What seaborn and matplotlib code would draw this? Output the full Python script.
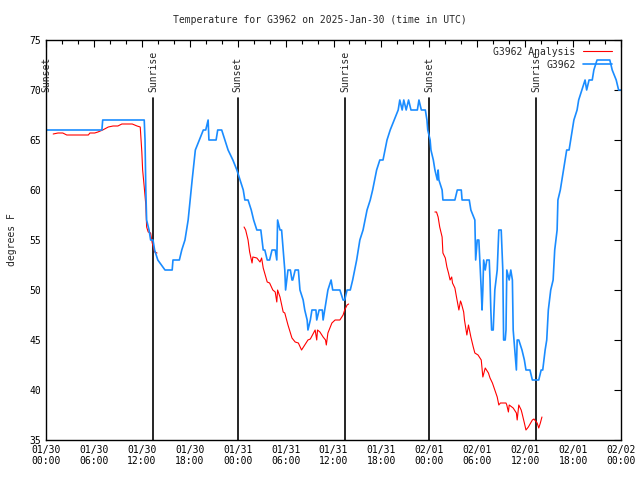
import numpy as np
import pandas as pd
import seaborn as sns
import matplotlib.pyplot as plt
import matplotlib.dates as mdates

# hours since 2025-01-30 00:00 UTC, temperature in degrees F
obs_hours = [0.0, 7.0, 7.1, 12.3, 12.4, 12.5, 12.6, 12.9, 13.1, 13.4, 13.6, 14.0, 14.9, 15.8, 15.9,
             16.7, 17.0, 17.4, 17.8, 18.3, 18.7, 19.2, 19.7, 20.0, 20.3, 20.4, 21.3, 21.5, 22.0, 22.4,
             22.8, 23.4, 23.9, 24.3, 24.7, 24.9, 25.3, 25.7, 26.0, 26.4, 26.9, 27.2, 27.4, 27.7, 28.0,
             28.3, 28.7, 28.9, 29.0, 29.3, 29.5, 29.7, 29.9, 30.0, 30.3, 30.6, 30.8, 30.9, 31.2, 31.6,
             31.8, 32.2, 32.4, 32.7, 32.8, 33.1, 33.3, 33.8, 33.9, 34.2, 34.6, 34.7, 35.1, 35.3, 35.7,
             35.9, 36.8, 37.2, 37.4, 37.7, 38.1, 38.4, 38.9, 39.3, 39.7, 40.2, 40.6, 40.9, 41.4, 41.8,
             42.2, 42.7, 43.1, 43.6, 44.1, 44.3, 44.6, 44.8, 45.1, 45.4, 45.7, 46.5, 46.7, 47.0, 47.5,
             47.7, 47.8, 48.1, 48.2, 48.5, 48.7, 49.0, 49.1, 49.2, 49.6, 49.7, 51.2, 51.5, 52.0, 52.1,
             53.0, 53.2, 53.7, 53.8, 54.0, 54.2, 54.5, 54.6, 54.7, 54.8, 55.0, 55.2, 55.5, 55.6, 55.7,
             55.8, 56.0, 56.1, 56.2, 56.5, 56.6, 56.7, 57.0, 57.1, 57.2, 57.3, 57.5, 57.6, 57.7, 58.0,
             58.2, 58.4, 58.5, 58.9, 59.0, 59.2, 59.6, 59.9, 60.1, 60.6, 60.9, 61.7, 62.0, 62.2, 62.5,
             62.7, 62.9, 63.2, 63.5, 63.7, 64.0, 64.1, 64.4, 64.6, 65.0, 65.2, 65.5, 65.9, 66.1, 66.5,
             66.7, 67.1, 67.5, 67.7, 68.0, 68.4, 68.6, 69.0, 70.6, 70.9, 71.4, 71.7, 72.0]
obs_temp = [66, 66, 67, 67, 65, 60, 57, 56, 55, 55, 54, 53, 52, 52, 53,
            53, 54, 55, 57, 61, 64, 65, 66, 66, 67, 65, 65, 66, 66, 65,
            64, 63, 62, 61, 60, 59, 59, 58, 57, 56, 56, 54, 54, 53, 53,
            54, 54, 53, 57, 56, 56, 54, 52, 50, 52, 52, 51, 51, 52, 52,
            50, 49, 48, 47, 46, 47, 48, 48, 47, 48, 48, 47, 49, 50, 51,
            50, 50, 49, 49, 50, 50, 51, 53, 55, 56, 58, 59, 60, 62, 63,
            63, 65, 66, 67, 68, 69, 68, 69, 68, 69, 68, 68, 69, 68, 68,
            67, 66, 65, 64, 63, 62, 61, 62, 61, 60, 59, 59, 60, 60, 59,
            59, 58, 57, 53, 55, 55, 50, 48, 50, 53, 52, 53, 53, 51, 48,
            46, 46, 48, 50, 52, 54, 56, 56, 54, 52, 45, 45, 46, 52, 51,
            52, 51, 46, 42, 45, 45, 44, 43, 42, 42, 41, 41, 42, 42, 44,
            45, 48, 50, 51, 54, 56, 59, 60, 61, 63, 64, 64, 66, 67, 68,
            69, 70, 71, 70, 71, 71, 72, 73, 73, 72, 71, 70, 70]

# analysis has gaps (nan)
ana_hours = [0.9, 1.5, 2.1, 2.6, 5.3, 5.5, 6.1, 6.5, 7.1, 7.8, 8.4, 9.0, 9.5, 10.8, 11.4, 11.8,
             12.0, 12.1, 12.3, 12.5, 12.6, 12.8, 13.1, 13.3, 13.6, 13.9, 14.0,
             24.8, 25.0, 25.3, 25.5, 25.8, 25.9, 26.4, 26.8, 27.0, 27.2, 27.7, 28.0, 28.4, 28.7, 28.9,
             29.0, 29.3, 29.7, 29.9, 30.3, 30.8, 31.2, 31.6, 32.0, 32.4, 32.8, 33.1, 33.7, 33.9, 34.0,
             34.3, 34.7, 35.0, 35.1, 35.3, 35.8, 36.2, 36.8, 37.2, 37.4, 37.7, 37.9, 38.0,
             48.7, 48.9, 49.1, 49.3, 49.6, 49.7, 50.0, 50.2, 50.4, 50.6, 50.8, 50.9, 51.2, 51.4, 51.7,
             51.9, 52.0, 52.3, 52.4, 52.7, 52.9, 53.2, 53.5, 53.7, 54.1, 54.5, 54.7, 55.0, 55.4, 55.6,
             55.9, 56.2, 56.5, 56.7, 56.9, 57.6, 57.7, 57.9, 58.0, 58.5, 58.9, 59.0, 59.2, 59.5, 59.6,
             59.9, 60.1, 60.4, 60.9, 61.1, 61.5, 61.7, 61.9, 62.1]
ana_temp = [65.6, 65.7, 65.7, 65.5, 65.5, 65.7, 65.7, 65.8, 66.0, 66.3, 66.4, 66.4, 66.6, 66.6, 66.4, 66.3,
            63.8, 62.0, 60.3, 58.5, 56.3, 55.8, 55.7, 54.7, 53.8, 53.7, np.nan,
            56.3, 56.0, 55.0, 53.8, 52.7, 53.3, 53.2, 52.8, 53.2, 52.2, 50.8, 50.7, 50.0, 49.8, 48.8,
            50.0, 49.3, 47.8, 47.7, 46.5, 45.2, 44.8, 44.7, 44.0, 44.5, 45.0, 45.1, 46.0, 45.0, 46.0,
            45.8, 45.3, 45.0, 44.5, 45.7, 46.7, 47.0, 47.0, 47.5, 48.0, 48.5, 48.6, np.nan,
            57.8, 57.8, 57.3, 56.3, 55.3, 53.7, 53.2, 52.3, 51.7, 51.0, 51.3, 50.7, 50.2, 49.3, 48.0,
            48.9, 48.7, 47.8, 47.0, 45.5, 46.5, 45.3, 44.3, 43.7, 43.5, 43.0, 41.3, 42.2, 41.7, 41.2,
            40.7, 40.0, 39.3, 38.5, 38.7, 38.7, 38.5, 37.8, 38.5, 38.2, 37.7, 37.0, 38.5, 38.0, 37.7,
            36.7, 36.0, 36.3, 37.0, 37.1, 36.7, 36.2, 36.7, 37.3]

sun_hours = [0.0, 13.4, 24.0, 37.5, 48.0, 61.4]
sun_labels = ["Sunset", "Sunrise", "Sunset", "Sunrise", "Sunset", "Sunrise"]

start = pd.Timestamp("2025-01-30 00:00")
obs = pd.DataFrame({"time": start + pd.to_timedelta(obs_hours, unit="h"), "temp": obs_temp})
ana = pd.DataFrame({"time": start + pd.to_timedelta(ana_hours, unit="h"), "temp": ana_temp})

sns.set_style("white")
plt.rcParams["font.family"] = ["DejaVu Sans Mono"]
plt.rcParams["font.size"] = 7

fig = plt.figure(figsize=(6.4, 4.8), dpi=100)
ax = fig.add_axes([46 / 640, 40 / 480, 575 / 640, 400 / 480])

ax.plot(ana["time"], ana["temp"], color="#ff0000", lw=0.8, label="G3962 Analysis")
sns.lineplot(data=obs, x="time", y="temp", color="#1a8cff", lw=1.2, label="G3962", ax=ax,
             estimator=None, sort=False)

for h, lab in zip(sun_hours, sun_labels):
    t = start + pd.Timedelta(hours=h)
    ax.plot([t, t], [35, 69.2], color="black", lw=1.2, zorder=1)
    ax.text(t, 69.8, lab, rotation=90, ha="center", va="bottom", fontsize=7)

ax.set_xlim(start, start + pd.Timedelta(hours=72))
ax.set_ylim(35, 75)
ax.set_yticks(range(35, 80, 5))
ax.xaxis.set_major_locator(mdates.HourLocator(byhour=[0, 6, 12, 18]))
ax.xaxis.set_minor_locator(mdates.HourLocator(byhour=range(0, 24, 2)))
ax.xaxis.set_major_formatter(mdates.DateFormatter("%m/%d\n%H:%M"))
ax.tick_params(which="both", direction="in", top=True, right=True, colors="black", labelsize=7)
ax.tick_params(which="major", length=5, width=0.8)
ax.tick_params(which="minor", length=3, width=0.8)
for s in ax.spines.values():
    s.set_color("black")
    s.set_linewidth(1.0)

ax.set_xlabel("")
ax.set_ylabel("degrees F", fontsize=7, labelpad=9)
fig.suptitle("Temperature for G3962 on 2025-Jan-30 (time in UTC)", y=1 - 15 / 480, fontsize=7)

ax.legend(loc="upper right", frameon=False, markerfirst=False, fontsize=7,
          handlelength=3.0, labelspacing=0.3, borderaxespad=0.3,
          bbox_to_anchor=(0.997, 1.0))

fig.savefig("out.png", dpi=100)
